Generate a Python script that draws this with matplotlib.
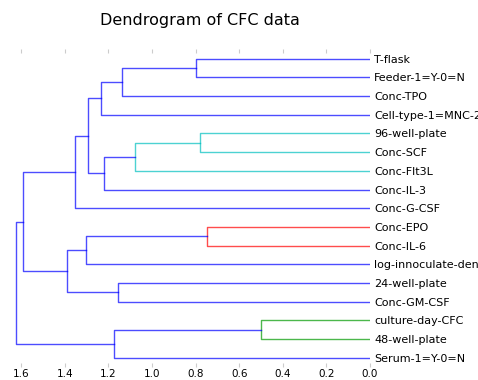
import numpy as np
import matplotlib
matplotlib.use("Agg")
from matplotlib import pyplot as plt


# leaves, listed top to bottom as they appear
labels = ["T-flask", "Feeder-1=Y-0=N", "Conc-TPO", "Cell-type-1=MNC-2",
          "96-well-plate", "Conc-SCF", "Conc-Flt3L", "Conc-IL-3", "Conc-G-CSF",
          "Conc-EPO", "Conc-IL-6", "log-innoculate-density", "24-well-plate",
          "Conc-GM-CSF", "culture-day-CFC", "48-well-plate", "Serum-1=Y-0=N"]

# merges: (cluster a, cluster b), new cluster ids start at len(labels)
pairs = [(0, 1), (4, 5), (9, 10), (14, 15), (17, 2), (18, 6), (21, 3), (22, 7),
         (23, 24), (25, 8), (19, 11), (12, 13), (27, 28), (26, 29), (20, 16),
         (30, 31)]
heights = [0.80, 0.78, 0.746, 0.501, 1.136, 1.078, 1.235, 1.22,
           1.292, 1.351, 1.303, 1.155, 1.39, 1.592, 1.176, 1.624]
link_colors = ["b", "c", "r", "g", "b", "c", "b", "b",
               "b", "b", "b", "b", "b", "b", "b", "b"]

colmap = {"b": (0, 0, 1), "c": (0, 0.75, 0.75), "r": (1, 0, 0), "g": (0, 0.6, 0)}

n = len(labels)
pos = {i: 10 * (n - 1 - i) + 5 for i in range(n)}
hgt = {i: 0.0 for i in range(n)}

fig = plt.figure(figsize=(4.78, 3.80), dpi=100)
ax = fig.add_axes([0.0, 0.034, 370 / 478, 0.836])

for k, (a, b) in enumerate(pairs):
    h = heights[k]
    xs = [hgt[a], h, h, hgt[b]]
    ys = [pos[a], pos[a], pos[b], pos[b]]
    ax.plot(xs, ys, color=colmap[link_colors[k]], lw=1.0, alpha=0.7)
    pos[n + k] = (pos[a] + pos[b]) / 2.0
    hgt[n + k] = h

ax.set_xlim(1.697, 0)
ax.set_ylim(0, 10 * n)
ax.set_xticks(np.arange(0, 1.61, 0.2))
ax.set_xticklabels(["%.1f" % v for v in np.arange(0, 1.61, 0.2)], fontsize=7.5)
ax.set_yticks([pos[i] for i in range(n)])
ax.set_yticklabels(labels, fontsize=8)
ax.yaxis.set_ticks_position("right")
ax.tick_params(axis="y", length=0, pad=3)
ax.tick_params(axis="x", direction="in", length=3, color="#cccccc", pad=1.5,
               top=True, bottom=True)
for s in ax.spines.values():
    s.set_visible(False)

fig.text(200 / 478, 1 - 20 / 380, "Dendrogram of CFC data", ha="center",
         va="center", fontsize=11.5)

fig.savefig("out.png", dpi=100)
